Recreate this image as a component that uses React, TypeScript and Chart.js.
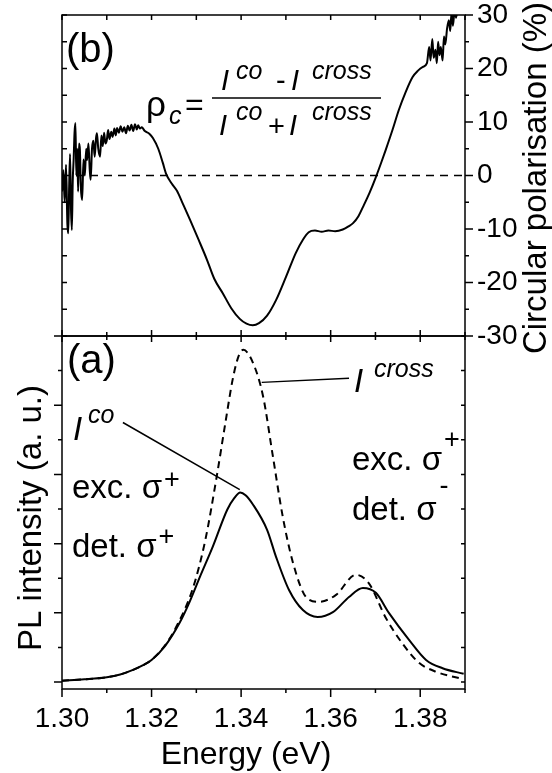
import React, { useEffect, useRef } from 'react';
import { Chart, registerables } from 'chart.js';

Chart.register(...registerables);

const FONT = "'Liberation Sans', Arial, Helvetica, sans-serif";

// ---- axes ----
const X_MIN = 1.3;
const X_MAX = 1.39;
const X_MAJOR = [1.3, 1.32, 1.34, 1.36, 1.38];
const X_MINOR = [1.31, 1.33, 1.35, 1.37, 1.39];
const POL_MIN = -30;
const POL_MAX = 30;
const POL_MAJOR = [-30, -20, -10, 0, 10, 20, 30];
const POL_MINOR = [-25, -15, -5, 5, 15, 25];
const PL_MIN = -0.1;
const PL_MAX = 5.0;
const PL_MAJOR = [0, 1, 2, 3, 4, 5];
const PL_MINOR = [0.5, 1.5, 2.5, 3.5, 4.5];

// ---- panel (b): circular polarisation (%) ----
const POL_ENERGY = [
  1.3, 1.3003, 1.3006, 1.3009, 1.3012, 1.3014, 1.3016, 1.3018, 1.302, 1.3022,
  1.3024, 1.3026, 1.3028, 1.303, 1.3032, 1.3034, 1.3036, 1.3038, 1.304, 1.3042,
  1.3045, 1.3048, 1.3051, 1.3054, 1.3056, 1.3059, 1.3062, 1.3064, 1.3067, 1.307,
  1.3073, 1.3076, 1.3078, 1.3081, 1.3085, 1.3088, 1.3091, 1.3094, 1.3097, 1.31,
  1.3103, 1.3106, 1.311, 1.3113, 1.3117, 1.312, 1.3123, 1.3127, 1.3131, 1.3135,
  1.3139, 1.3143, 1.3147, 1.3151, 1.3155, 1.3159, 1.3163, 1.3167, 1.317, 1.3174,
  1.3178, 1.3185, 1.3195, 1.3203, 1.3215, 1.3225, 1.3233, 1.3245, 1.3257, 1.327,
  1.3286, 1.3305, 1.3324, 1.334, 1.3359, 1.3378, 1.3397, 1.3412, 1.3426, 1.344,
  1.3458, 1.3478, 1.35, 1.3522, 1.3538, 1.3551, 1.3565, 1.358, 1.3595, 1.361,
  1.3627, 1.364, 1.365, 1.3662, 1.3672, 1.3687, 1.3701, 1.3712, 1.3723, 1.3738,
  1.3752, 1.3767, 1.3783, 1.3795, 1.3806, 1.3815, 1.382, 1.3823, 1.3827, 1.383,
  1.3834, 1.3837, 1.384, 1.3843, 1.3846, 1.385, 1.3853, 1.3856, 1.386, 1.3864,
  1.3867, 1.387, 1.3873, 1.3877, 1.388, 1.3885, 1.389,
];
const POL_VALUE = [
  -3, 1, -5, 2, -9, -10.8, -2, 4, -6, -10.2,
  -1, 3, 8, 9.8, 0, 5, -3, 6, 4.8, -2,
  -4.6, 3, 0, 5, 2.9, 6, 1, -0.8, 5, 6.5,
  3.5, 7, 7.9, 5, 3.5, 7.5, 5.5, 8, 6, 6.6,
  8.5, 6.8, 8.2, 7.2, 8.8, 7.5, 8.9, 8.0, 9.2, 8.2,
  9.0, 7.9, 9.3, 8.4, 9.5, 8.3, 9.6, 8.6, 9.4, 8.8,
  9.0, 8.3, 7.8, 7.0, 5.0, 2.4, 0.2, -1.5, -2.9, -5.3,
  -8.3, -12.0, -15.8, -19.3, -22.0, -24.8, -26.8, -27.7, -28.0, -27.6,
  -26.2, -23.3, -19.0, -14.5, -12.0, -10.6, -10.3, -10.5, -10.3, -10.4,
  -10.1, -9.5, -8.9, -7.6, -5.9, -3.2, -0.3, 2.2, 4.8, 8.5,
  12.2, 15.5, 18.4, 19.6, 20.3, 21.0, 24.0, 21.5, 25.5, 22.0,
  23.5, 21.0, 25.0, 22.5, 24.0, 21.5, 26.0, 24.5, 27.5, 29.0,
  27.0, 30.5, 28.0, 31.0, 29.5, 32, 33,
];
const ZERO_ENERGY = [1.3, 1.39];
const ZERO_VALUE = [0, 0];

// ---- panel (a): PL intensity (a. u.) ----
const CO_ENERGY = [
  1.3, 1.305, 1.31, 1.313, 1.316, 1.318, 1.32, 1.323, 1.3263, 1.3285,
  1.3308, 1.3337, 1.3369, 1.3385, 1.3398, 1.341, 1.3426, 1.3458, 1.3478, 1.3507,
  1.3538, 1.3571, 1.3605, 1.3641, 1.3672, 1.3701, 1.373, 1.3775, 1.3813, 1.385,
  1.3897,
];
const CO_INTENSITY = [
  0.02, 0.04, 0.07, 0.11, 0.18, 0.24, 0.32, 0.52, 0.86, 1.16,
  1.52, 1.96, 2.49, 2.66, 2.74, 2.7, 2.57, 2.2, 1.81, 1.33,
  1.04, 0.94, 1.01, 1.23, 1.36, 1.29, 1.0, 0.61, 0.32, 0.2,
  0.12,
];
const CROSS_ENERGY = [
  1.3, 1.305, 1.31, 1.313, 1.316, 1.318, 1.32, 1.323, 1.3257, 1.3292,
  1.332, 1.3345, 1.3365, 1.3382, 1.3395, 1.3405, 1.3426, 1.3449, 1.3471, 1.3493,
  1.3516, 1.3545, 1.3574, 1.3612, 1.3656, 1.3685, 1.3723, 1.3761, 1.3797, 1.3835,
  1.3897,
];
const CROSS_INTENSITY = [
  0.02, 0.04, 0.07, 0.11, 0.18, 0.24, 0.32, 0.53, 0.82, 1.35,
  2.05, 2.95, 3.75, 4.4, 4.72, 4.8, 4.62, 4.13, 3.26, 2.39,
  1.72, 1.23, 1.16, 1.26, 1.55, 1.43, 0.93, 0.55, 0.28, 0.15,
  0.04,
];

// leader lines for the labels, in data coordinates of panel (a)
const LEADERS = [
  [1.3136, 3.75, 1.3397, 2.78],
  [1.3446, 4.33, 1.3641, 4.39],
];

const pts = (xs: number[], ys: number[]) => xs.map((x, i) => ({ x, y: ys[i] }));

// text run: [text, font, x (null = right after previous run), baseline y, gap]
type Run = [string, string, number | null, number, number?];
function drawRuns(ctx: CanvasRenderingContext2D, runs: Run[], dy: number) {
  ctx.save();
  ctx.fillStyle = '#000';
  ctx.textAlign = 'left';
  ctx.textBaseline = 'alphabetic';
  let cursor = 0;
  for (const [t, f, x, y, gap] of runs) {
    ctx.font = `${f} ${FONT}`;
    const px = x === null ? cursor + (gap || 0) : x;
    ctx.fillText(t, px, y - dy);
    cursor = px + ctx.measureText(t).width;
  }
  ctx.restore();
}
function drawRotated(ctx: CanvasRenderingContext2D, text: string, size: number, x: number, y: number) {
  ctx.save();
  ctx.fillStyle = '#000';
  ctx.translate(x, y);
  ctx.rotate(-Math.PI / 2);
  ctx.font = `${size}px ${FONT}`;
  ctx.textAlign = 'center';
  ctx.textBaseline = 'alphabetic';
  ctx.fillText(text, 0, 0);
  ctx.restore();
}

const TOP_H = 360;
const BOT_TOP = 300;
const BOT_H = 473;

const topPlugin = {
  id: 'topDecor',
  afterDraw(chart: any) {
    const { ctx, chartArea: a, scales } = chart;
    const xs = scales.x;
    const ys = scales.y;
    ctx.save();
    ctx.strokeStyle = '#000';
    ctx.lineWidth = 1.5;
    ctx.strokeRect(a.left, a.top, a.right - a.left, a.bottom - a.top);
    ctx.beginPath();
    for (const v of [...X_MAJOR, ...X_MINOR]) {
      const px = xs.getPixelForValue(v);
      ctx.moveTo(px, a.top);
      ctx.lineTo(px, a.top + 5);
      const h = X_MAJOR.includes(v) ? 6 : 4;
      ctx.moveTo(px, a.bottom - h);
      ctx.lineTo(px, a.bottom + h);
    }
    for (const v of [...POL_MAJOR, ...POL_MINOR]) {
      const py = ys.getPixelForValue(v);
      ctx.moveTo(a.left, py);
      ctx.lineTo(a.left + 5, py);
      const w = POL_MAJOR.includes(v) ? 8 : 4;
      ctx.moveTo(a.right, py);
      ctx.lineTo(a.right + w, py);
    }
    ctx.stroke();
    // formula rho_c fraction bar
    ctx.lineWidth = 1.6;
    ctx.beginPath();
    ctx.moveTo(212, 98);
    ctx.lineTo(381, 98);
    ctx.stroke();
    ctx.restore();
    drawRuns(ctx, [
      ['(b)', '40px', 66, 62],
      ['ρ', '35px', 146, 116],
      ['c', 'italic 25px', 169, 124],
      ['=', '32px', 185, 115],
      ['I', 'italic 29px', 221, 90],
      ['co', 'italic 25px', 236, 79],
      ['-', '29px', 276, 90],
      ['I', 'italic 29px', 291, 90],
      ['cross', 'italic 25px', 312, 79],
      ['I', 'italic 29px', 219, 135],
      ['co', 'italic 25px', 236, 120],
      ['+', '29px', 268, 136],
      ['I', 'italic 29px', 289, 135],
      ['cross', 'italic 25px', 312, 120],
    ], 0);
    drawRotated(ctx, 'Circular polarisation (%)', 33, 546, 178);
  },
};

const botPlugin = {
  id: 'botDecor',
  afterDraw(chart: any) {
    const { ctx, chartArea: a, scales } = chart;
    const xs = scales.x;
    const ys = scales.y;
    ctx.save();
    ctx.strokeStyle = '#000';
    ctx.lineWidth = 1.5;
    ctx.strokeRect(a.left, a.top, a.right - a.left, a.bottom - a.top);
    ctx.beginPath();
    for (const v of [...X_MAJOR, ...X_MINOR]) {
      const px = xs.getPixelForValue(v);
      const h = X_MAJOR.includes(v) ? 8 : 4;
      ctx.moveTo(px, a.bottom);
      ctx.lineTo(px, a.bottom + h);
    }
    for (const v of [...PL_MAJOR, ...PL_MINOR]) {
      const py = ys.getPixelForValue(v);
      const w = PL_MAJOR.includes(v) ? 8 : 4;
      ctx.moveTo(a.left - w, py);
      ctx.lineTo(a.left, py);
      ctx.moveTo(a.right - 4, py);
      ctx.lineTo(a.right, py);
    }
    ctx.stroke();
    ctx.lineWidth = 1.5;
    ctx.beginPath();
    for (const [x1, y1, x2, y2] of LEADERS) {
      ctx.moveTo(xs.getPixelForValue(x1), ys.getPixelForValue(y1));
      ctx.lineTo(xs.getPixelForValue(x2), ys.getPixelForValue(y2));
    }
    ctx.stroke();
    ctx.restore();
    drawRuns(ctx, [
      ['(a)', '40px', 67, 373],
      ['I', 'italic 33px', 73, 440],
      ['co', 'italic 25px', 88, 423],
      ['I', 'italic 33px', 354, 392],
      ['cross', 'italic 25px', 374, 377],
      ['exc. σ', '33px', 72, 498],
      ['+', '27px', null, 488, 2],
      ['det. σ', '33px', 72, 557],
      ['+', '27px', null, 545, 2],
      ['exc. σ', '33px', 352, 470],
      ['+', '27px', null, 448, 2],
      ['det. σ', '33px', 352, 520],
      ['-', '27px', null, 494, 3],
    ], BOT_TOP);
    drawRotated(ctx, 'PL intensity (a. u.)', 33, 41, 518 - BOT_TOP);
    ctx.save();
    ctx.fillStyle = '#000';
    ctx.font = `32px ${FONT}`;
    ctx.textAlign = 'center';
    ctx.textBaseline = 'alphabetic';
    ctx.fillText('Energy (eV)', 246, 764 - BOT_TOP);
    ctx.restore();
  },
};

export default function App() {
  const topRef = useRef<HTMLCanvasElement>(null);
  const botRef = useRef<HTMLCanvasElement>(null);

  useEffect(() => {
    const top = new Chart(topRef.current!, {
      type: 'line',
      data: {
        datasets: [
          {
            data: pts(ZERO_ENERGY, ZERO_VALUE),
            borderColor: '#000',
            borderWidth: 1.5,
            borderDash: [8, 6],
            pointRadius: 0,
          },
          {
            data: pts(POL_ENERGY, POL_VALUE),
            borderColor: '#000',
            borderWidth: 2,
            pointRadius: 0,
            cubicInterpolationMode: 'monotone',
          },
        ],
      },
      options: {
        animation: false,
        responsive: false,
        maintainAspectRatio: false,
        events: [],
        layout: { padding: { left: 62, right: 0, top: 15, bottom: TOP_H - 336 } },
        plugins: { legend: { display: false }, tooltip: { enabled: false } },
        scales: {
          x: { type: 'linear', min: X_MIN, max: X_MAX, display: false },
          y: {
            type: 'linear',
            position: 'right',
            min: POL_MIN,
            max: POL_MAX,
            grid: { display: false, drawTicks: false },
            border: { display: false },
            afterBuildTicks: (s: any) => {
              s.ticks = POL_MAJOR.map((v) => ({ value: v }));
            },
            afterFit: (s: any) => {
              s.width = 87;
              s.paddingTop = 0;
              s.paddingBottom = 0;
            },
            ticks: {
              color: '#000',
              padding: 12,
              font: { family: FONT, size: 28 },
              callback: (v: any) => String(v),
            },
          },
        },
      },
      plugins: [topPlugin],
    } as any);

    const bot = new Chart(botRef.current!, {
      type: 'line',
      data: {
        datasets: [
          {
            data: pts(CROSS_ENERGY, CROSS_INTENSITY),
            borderColor: '#000',
            borderWidth: 2,
            borderDash: [7, 5],
            pointRadius: 0,
            cubicInterpolationMode: 'monotone',
          },
          {
            data: pts(CO_ENERGY, CO_INTENSITY),
            borderColor: '#000',
            borderWidth: 2,
            pointRadius: 0,
            cubicInterpolationMode: 'monotone',
          },
        ],
      },
      options: {
        animation: false,
        responsive: false,
        maintainAspectRatio: false,
        events: [],
        layout: { padding: { left: 62, right: 87, top: 336 - BOT_TOP, bottom: 0 } },
        plugins: { legend: { display: false }, tooltip: { enabled: false } },
        scales: {
          x: {
            type: 'linear',
            min: X_MIN,
            max: X_MAX,
            grid: { display: false, drawTicks: false },
            border: { display: false },
            afterBuildTicks: (s: any) => {
              s.ticks = X_MAJOR.map((v) => ({ value: v }));
            },
            afterFit: (s: any) => {
              s.height = BOT_H - (689 - BOT_TOP);
              s.paddingLeft = 0;
              s.paddingRight = 0;
            },
            ticks: {
              color: '#000',
              padding: 13,
              maxRotation: 0,
              font: { family: FONT, size: 28 },
              callback: (v: any) => Number(v).toFixed(2),
            },
          },
          y: { type: 'linear', min: PL_MIN, max: PL_MAX, display: false },
        },
      },
      plugins: [botPlugin],
    } as any);

    return () => {
      top.destroy();
      bot.destroy();
    };
  }, []);

  return (
    <div style={{ position: 'absolute', left: 0, top: 0, width: 552, height: 773, background: '#fff' }}>
      <canvas
        ref={botRef}
        width={552}
        height={BOT_H}
        style={{ position: 'absolute', left: 0, top: BOT_TOP, width: 552, height: BOT_H }}
      />
      <canvas
        ref={topRef}
        width={552}
        height={TOP_H}
        style={{ position: 'absolute', left: 0, top: 0, width: 552, height: TOP_H }}
      />
    </div>
  );
}
